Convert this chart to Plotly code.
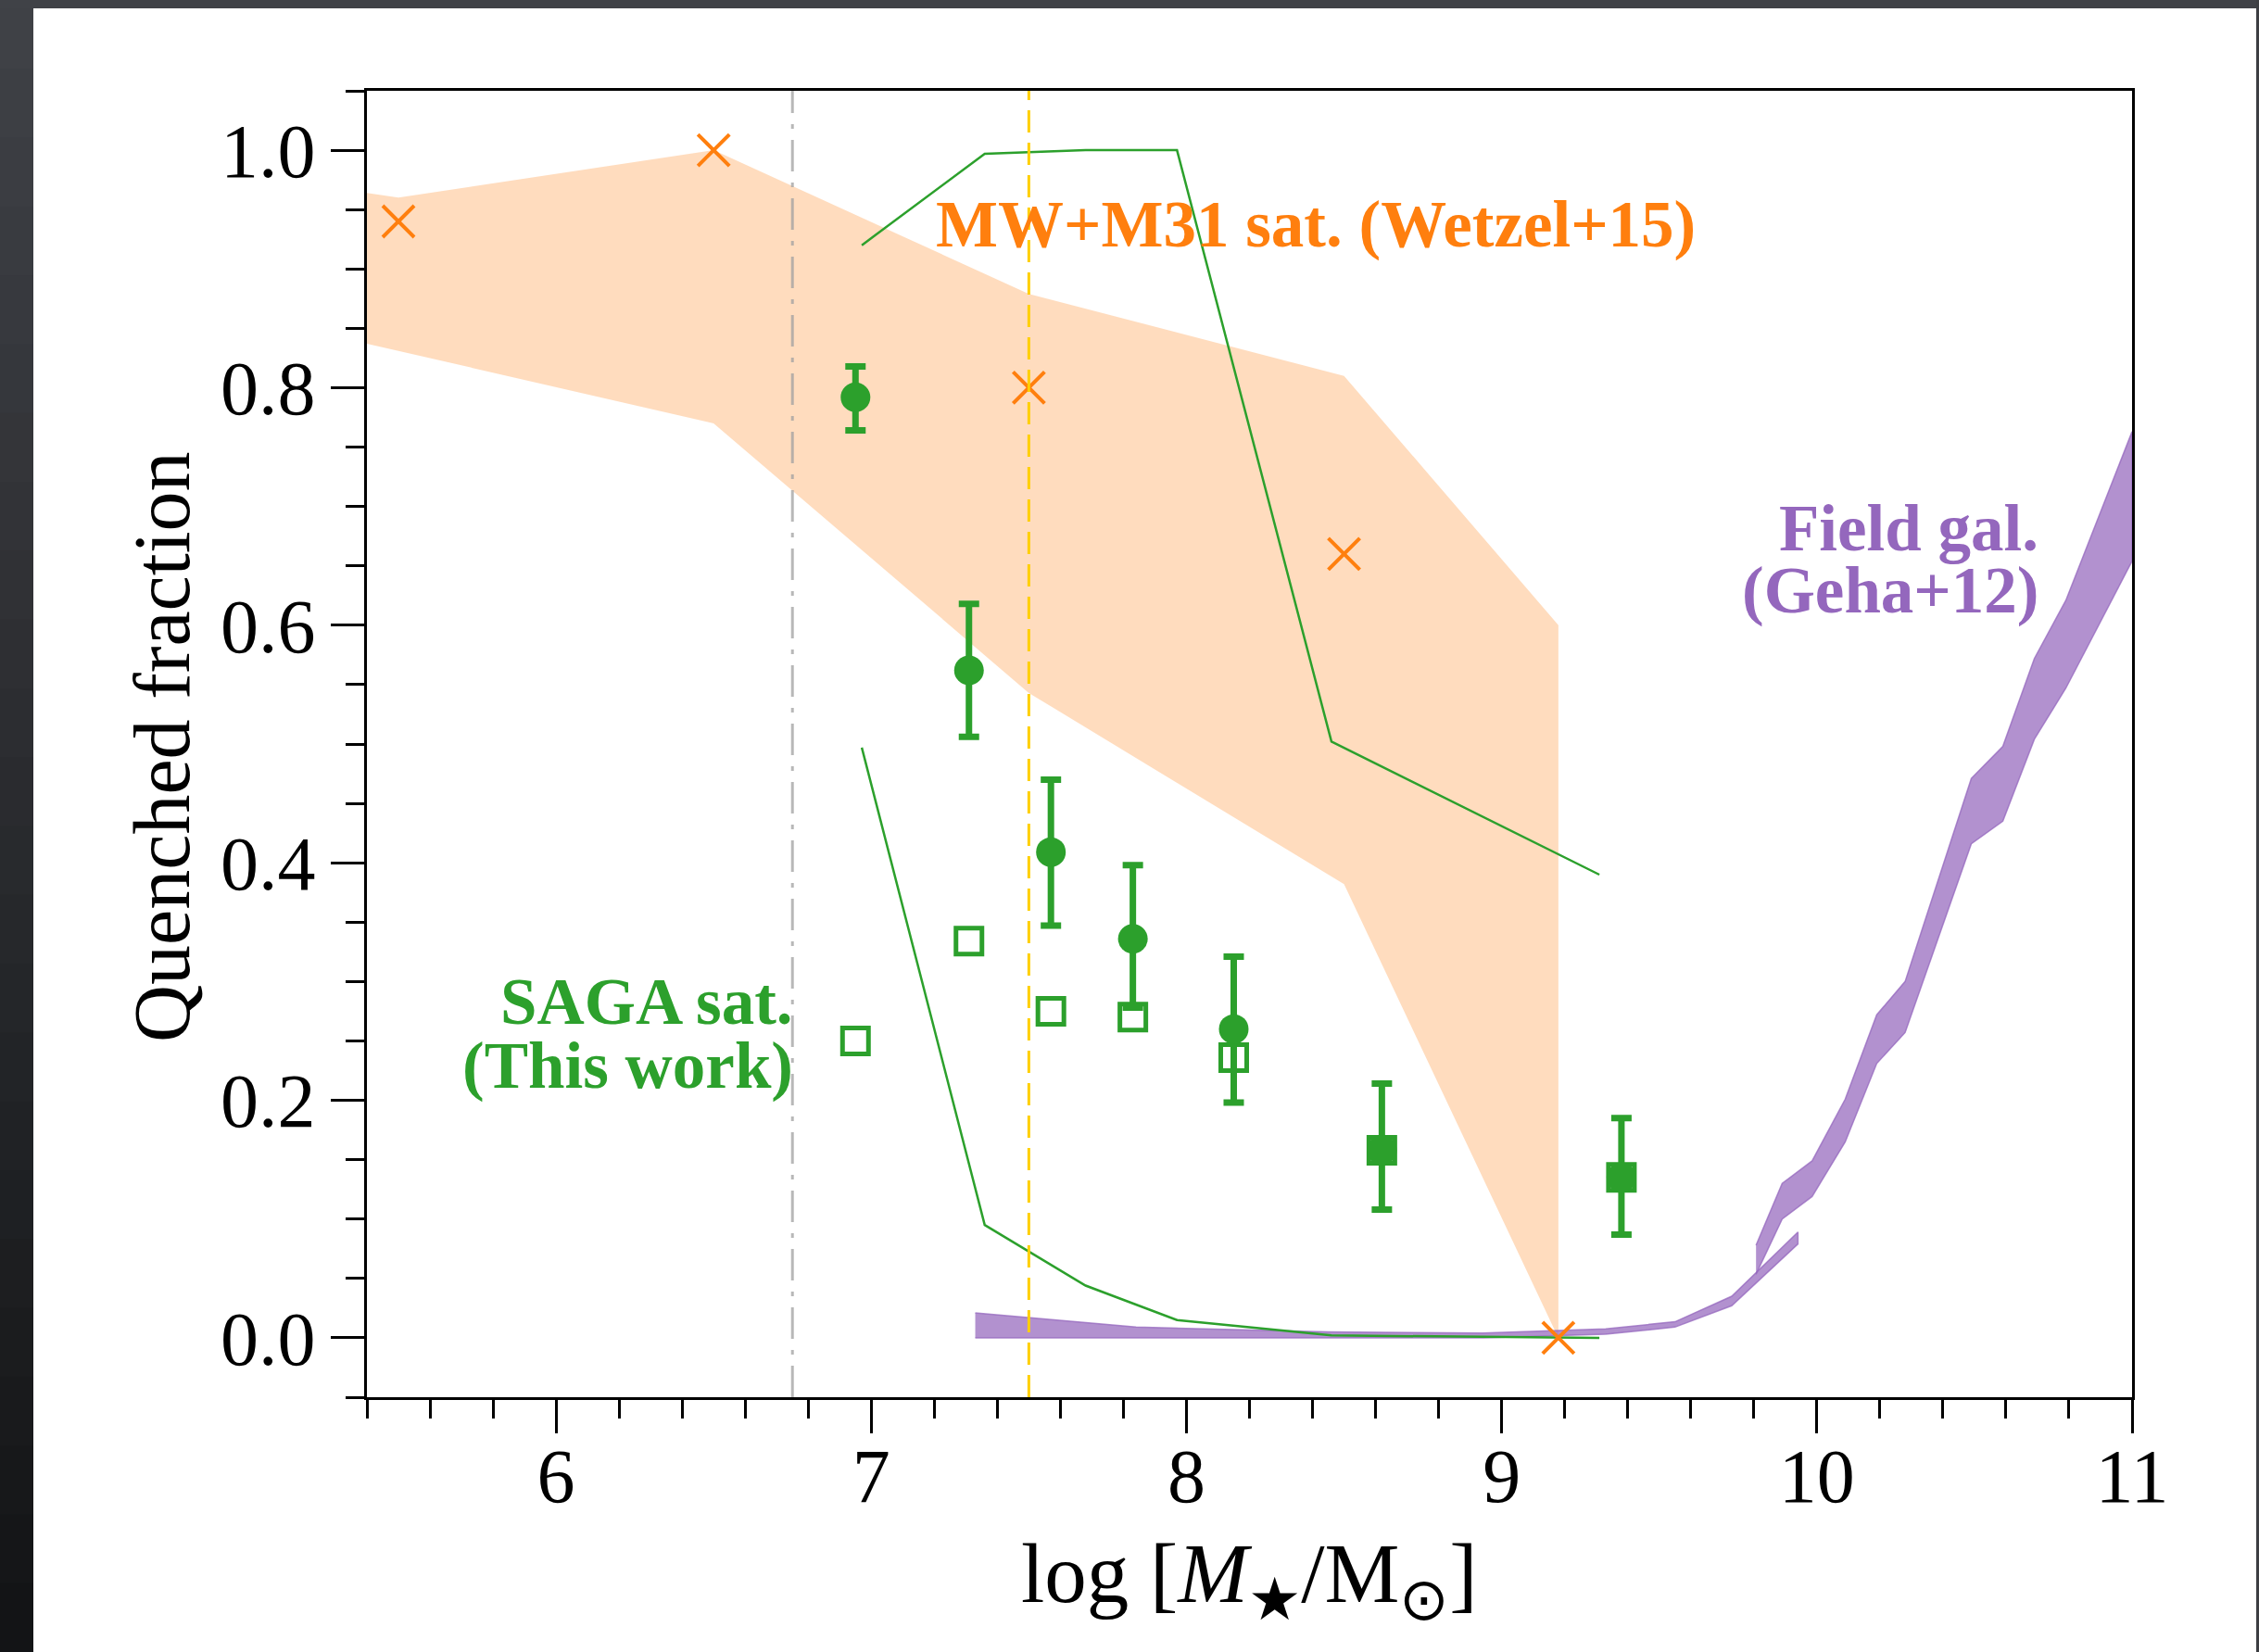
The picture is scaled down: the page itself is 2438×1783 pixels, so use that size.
import plotly.graph_objects as go

# ---------------- data ----------------
wetzel_x = [5.5, 6.5, 7.5, 8.5, 9.18]
wetzel_qf = [0.94, 1.0, 0.80, 0.66, 0.0]

wetzel_band_x = [5.4, 5.5, 6.5, 7.5, 8.5, 9.18]
wetzel_band_hi = [0.964, 0.960, 1.0, 0.879, 0.810, 0.600]
wetzel_band_lo = [0.837, 0.831, 0.770, 0.543, 0.382, 0.0]

saga_x = [6.95, 7.31, 7.57, 7.83, 8.15, 8.62, 9.38]
saga_qf = [0.792, 0.562, 0.409, 0.336, 0.260, 0.158, 0.135]
saga_err_hi = [0.026, 0.056, 0.061, 0.062, 0.061, 0.056, 0.050]
saga_err_lo = [0.028, 0.056, 0.062, 0.058, 0.062, 0.050, 0.048]
saga_qf_alt = [0.250, 0.334, 0.275, 0.270, 0.236, 0.158, 0.135]

model_x = [6.97, 7.36, 7.68, 7.97, 8.46, 9.31]
model_hi = [0.920, 0.997, 1.0, 1.0, 0.502, 0.390]
model_lo = [0.497, 0.095, 0.044, 0.015, 0.002, 0.0]

geha_low_x = [7.33, 7.84, 8.45, 8.94, 9.33, 9.55, 9.73, 9.94]
geha_low_hi = [0.021, 0.009, 0.005, 0.004, 0.0076, 0.0135, 0.035, 0.089]
geha_low_lo = [0.0, 0.0, 0.0, 0.0, 0.003, 0.009, 0.027, 0.079]

geha_high_x = [9.807, 9.89, 9.985, 10.09, 10.19, 10.28, 10.49, 10.59, 10.69, 10.79, 11.0]
geha_high_hi = [0.078, 0.130, 0.149, 0.201, 0.272, 0.300, 0.471, 0.498, 0.572, 0.621, 0.763]
geha_high_lo = [0.0535, 0.100, 0.119, 0.165, 0.231, 0.257, 0.416, 0.435, 0.504, 0.547, 0.654]

gray_line_x = 6.75
gold_line_x = 7.5

x_tick_vals = [6, 7, 8, 9, 10, 11]
x_tick_text = ["6", "7", "8", "9", "10", "11"]
y_tick_vals = [0.0, 0.2, 0.4, 0.6, 0.8, 1.0]
y_tick_text = ["0.0", "0.2", "0.4", "0.6", "0.8", "1.0"]

# ---------------- styling ----------------
W, H = 2438, 1783
ML, MR, MT, MB = 396, 137, 98, 275
PW, PH = W - ML - MR, H - MT - MB
SERIF = "Liberation Serif, Times New Roman, serif"
ORANGE = "#ff7f0e"
GREEN = "#2ca02c"
PURPLE = "#9467bd"


def band(xs, hi, lo):
    return list(xs) + list(xs)[::-1], list(hi) + list(lo)[::-1]


fig = go.Figure()

bx, by = band(wetzel_band_x, wetzel_band_hi, wetzel_band_lo)
fig.add_trace(go.Scatter(x=bx, y=by, fill="toself", mode="lines",
                         line=dict(width=0, color="rgba(0,0,0,0)"),
                         fillcolor="rgba(255,127,14,0.27)", hoverinfo="skip"))

for xs, hi, lo in [(geha_low_x, geha_low_hi, geha_low_lo),
                   (geha_high_x, geha_high_hi, geha_high_lo)]:
    px, py = band(xs, hi, lo)
    fig.add_trace(go.Scatter(x=px, y=py, fill="toself", mode="lines",
                             line=dict(width=1.5, color="rgba(148,103,189,0.75)"),
                             fillcolor="rgba(148,103,189,0.72)", hoverinfo="skip"))

for ys in (model_hi, model_lo):
    fig.add_trace(go.Scatter(x=model_x, y=ys, mode="lines",
                             line=dict(color=GREEN, width=2.5), hoverinfo="skip"))

fig.add_trace(go.Scatter(x=wetzel_x, y=wetzel_qf, mode="markers",
                         marker=dict(symbol="x-thin", size=34, color=ORANGE,
                                     line=dict(color=ORANGE, width=4)),
                         cliponaxis=False))

fig.add_trace(go.Scatter(x=saga_x, y=saga_qf_alt, mode="markers",
                         marker=dict(symbol="square-open", size=28, color=GREEN,
                                     line=dict(color=GREEN, width=5))))

fig.add_trace(go.Scatter(x=saga_x, y=saga_qf, mode="markers",
                         marker=dict(symbol="circle", size=32, color=GREEN),
                         error_y=dict(type="data", symmetric=False, array=saga_err_hi,
                                      arrayminus=saga_err_lo, color=GREEN,
                                      thickness=7, width=11)))

# reference vertical lines
fig.add_shape(type="line", xref="x", yref="paper", x0=gray_line_x, x1=gray_line_x,
              y0=0, y1=1, line=dict(color="rgba(160,160,160,0.75)", width=3,
                                    dash="34px,12px,5px,12px"))
fig.add_shape(type="line", xref="x", yref="paper", x0=gold_line_x, x1=gold_line_x,
              y0=0, y1=1, line=dict(color="#ffcf00", width=3, dash="24px,11px"))


# dark screenshot frame (decoration)
def px2paper_x(p):
    return (p - ML) / PW


def px2paper_y(p):
    return (H - MB - p) / PH


top_c = (64, 66, 71)
bot_c = (18, 19, 21)
N = 24
for i in range(N):
    t = (i + 0.5) / N
    c = tuple(int(round(top_c[k] + (bot_c[k] - top_c[k]) * t)) for k in range(3))
    y0p = H * i / N
    y1p = H * (i + 1) / N
    fig.add_shape(type="rect", xref="paper", yref="paper", layer="above",
                  x0=px2paper_x(0), x1=px2paper_x(36),
                  y0=px2paper_y(y1p + 1), y1=px2paper_y(y0p),
                  fillcolor="rgb(%d,%d,%d)" % c, line=dict(width=0))
fig.add_shape(type="rect", xref="paper", yref="paper", layer="above",
              x0=px2paper_x(0), x1=px2paper_x(W), y0=px2paper_y(9), y1=px2paper_y(0),
              fillcolor="rgb(%d,%d,%d)" % top_c, line=dict(width=0))
fig.add_shape(type="rect", xref="paper", yref="paper", layer="above",
              x0=px2paper_x(W - 3), x1=px2paper_x(W), y0=px2paper_y(H), y1=px2paper_y(0),
              fillcolor="rgb(60,62,66)", line=dict(width=0))

# text labels
ann_font = dict(family=SERIF, size=71)
annotations = [
    dict(x=7.2, y=0.937, xref="x", yref="y", xanchor="left", yanchor="middle",
         text="<b>MW+M31 sat. (Wetzel+15)</b>", font=dict(ann_font, color=ORANGE)),
    dict(x=10.71, y=0.682, xref="x", yref="y", xanchor="right", yanchor="middle",
         text="<b>Field gal.</b>", font=dict(ann_font, color=PURPLE)),
    dict(x=10.71, y=0.629, xref="x", yref="y", xanchor="right", yanchor="middle",
         text="<b>(Geha+12)</b>", font=dict(ann_font, color=PURPLE)),
    dict(x=6.758, y=0.283, xref="x", yref="y", xanchor="right", yanchor="middle",
         text="<b>SAGA sat.</b>", font=dict(ann_font, color=GREEN)),
    dict(x=6.758, y=0.229, xref="x", yref="y", xanchor="right", yanchor="middle",
         text="<b>(This work)</b>", font=dict(ann_font, color=GREEN)),
    dict(x=px2paper_x(175), y=px2paper_y(806), xref="paper", yref="paper",
         xanchor="center", yanchor="middle", textangle=-90, text="Quenched fraction",
         font=dict(family=SERIF, size=86, color="black")),
    dict(x=0.5, y=px2paper_y(1705), xref="paper", yref="paper", xanchor="center",
         yanchor="middle",
         text="log [<i>M</i><sub>★</sub>/M<sub>⊙</sub>]",
         font=dict(family=SERIF, size=91, color="black")),
]
for a in annotations:
    a["showarrow"] = False

axis_common = dict(showline=True, mirror=True, linecolor="black", linewidth=3,
                   ticks="outside", ticklen=36, tickwidth=3, tickcolor="black",
                   showgrid=False, zeroline=False,
                   tickfont=dict(family=SERIF, size=82, color="black"))

fig.update_layout(
    width=W, height=H,
    margin=dict(l=ML, r=MR, t=MT, b=MB),
    paper_bgcolor="white", plot_bgcolor="white",
    showlegend=False,
    annotations=annotations,
    xaxis=dict(axis_common, range=[5.4, 11], tickmode="array",
               tickvals=x_tick_vals, ticktext=x_tick_text, ticklabelstandoff=-24,
               minor=dict(dtick=0.2, tick0=0, ticks="outside", ticklen=20,
                          tickwidth=2.5, tickcolor="black")),
    yaxis=dict(axis_common, range=[-0.05, 1.05], tickmode="array",
               tickvals=y_tick_vals, ticktext=y_tick_text,
               minor=dict(dtick=0.05, tick0=0, ticks="outside", ticklen=20,
                          tickwidth=2.5, tickcolor="black")),
)

fig.write_html("out.html")
